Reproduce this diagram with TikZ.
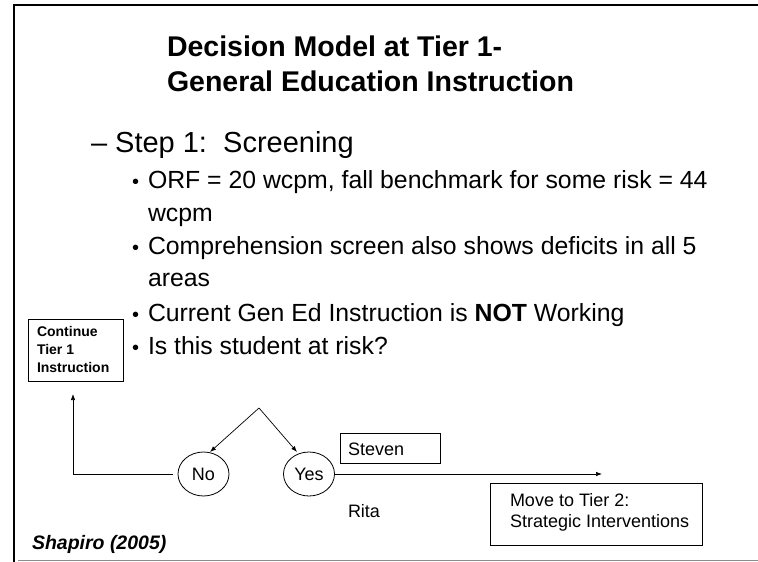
\documentclass[tikz,border=0pt]{standalone}
\usepackage{fontspec}
\setmainfont{Liberation Sans}
\usetikzlibrary{arrows.meta,shapes.geometric}
\begin{document}
\begin{tikzpicture}[x=1pt,y=-1pt,
  txt/.style={anchor=base west,inner sep=0pt,outer sep=0pt},
  ttl/.style={txt,font=\fontsize{28.5}{34}\selectfont\bfseries},
  lvl1/.style={txt,font=\fontsize{29}{34}\selectfont},
  lvl2/.style={txt,font=\fontsize{24.8}{29}\selectfont},
  bul/.style={txt,font=\fontsize{20}{24}\selectfont},
  small/.style={txt,font=\fontsize{18}{21}\selectfont},
  boxd/.style={draw,line width=0.8pt},
  ell/.style={draw,ellipse,line width=0.8pt,minimum width=51pt,minimum height=44pt,inner sep=0pt,font=\fontsize{18}{21}\selectfont},
  arr/.style={-{Latex[length=6pt,width=4.5pt]},line width=0.7pt},
]
\useasboundingbox (0,0) rectangle (758,562);
% frame
\draw[line width=2.5pt] (758,5) -- (14,5) -- (14,562);
\draw[line width=1pt,black!45] (18,560.5) -- (758,560.5);
% title
\node[ttl] (t1) at (167,56) {Decision Model at Tier 1-};
\node[ttl] (t2) at (167,91) {General Education Instruction};
% level 1
\node[lvl1] (s1) at (91,152) {\textendash\ Step 1:\ \ Screening};
% bullets
\node[bul] (b1) at (132,188) {\textbullet};
\node[lvl2] (l1) at (148,188) {ORF = 20 wcpm, fall benchmark for some risk = 44};
\node[lvl2] (l1b) at (148,221) {wcpm};
\node[bul] (b2) at (132,254) {\textbullet};
\node[lvl2] (l2) at (148,254) {Comprehension screen also shows deficits in all 5};
\node[lvl2] (l2b) at (148,286) {areas};
\node[bul] (b3) at (132,321) {\textbullet};
\node[lvl2] (l3) at (148,321) {Current Gen Ed Instruction is \textbf{NOT} Working};
\node[bul] (b4) at (132,354) {\textbullet};
\node[lvl2] (l4) at (148,354) {Is this student at risk?};
% continue box
\draw[boxd] (28,319) rectangle (123,381);
\node[txt,font=\fontsize{14}{18}\selectfont\bfseries,align=left,anchor=north west] (cont) at (37,326) {Continue\\Tier 1\\Instruction};
% decision
\node[ell] (no) at (203.5,474) {No};
\node[ell] (yes) at (309,474) {Yes};
\coordinate (apex) at (259,408);
\coordinate (notip) at (210,452);
\coordinate (yestip) at (297,452);
\draw[arr] (apex) -- (notip);
\draw[arr] (apex) -- (yestip);
\coordinate (ctip) at (73,394);
\draw[arr] ([xshift=-5pt]no.west) -| (ctip);
\coordinate (ytip) at (602,474);
\draw[arr] (yes.east) -- (ytip);
% steven
\node[boxd,minimum width=100pt,minimum height=30pt,anchor=north west,inner sep=0pt] (stevbox) at (340,433) {};
\node[small] (steven) at (348,455) {Steven};
\node[small] (rita) at (348,517) {Rita};
% move box
\node[boxd,minimum width=212pt,minimum height=62pt,anchor=north west,inner sep=0pt] (movebox) at (490,483) {};
\node[small] (m1) at (510,506) {Move to Tier 2:};
\node[small] (m2) at (510,527) {Strategic Interventions};
% citation
\node[txt,font=\fontsize{19.5}{23}\selectfont\bfseries\itshape] (cite) at (32,549) {Shapiro (2005)};
\end{tikzpicture}
\end{document}
